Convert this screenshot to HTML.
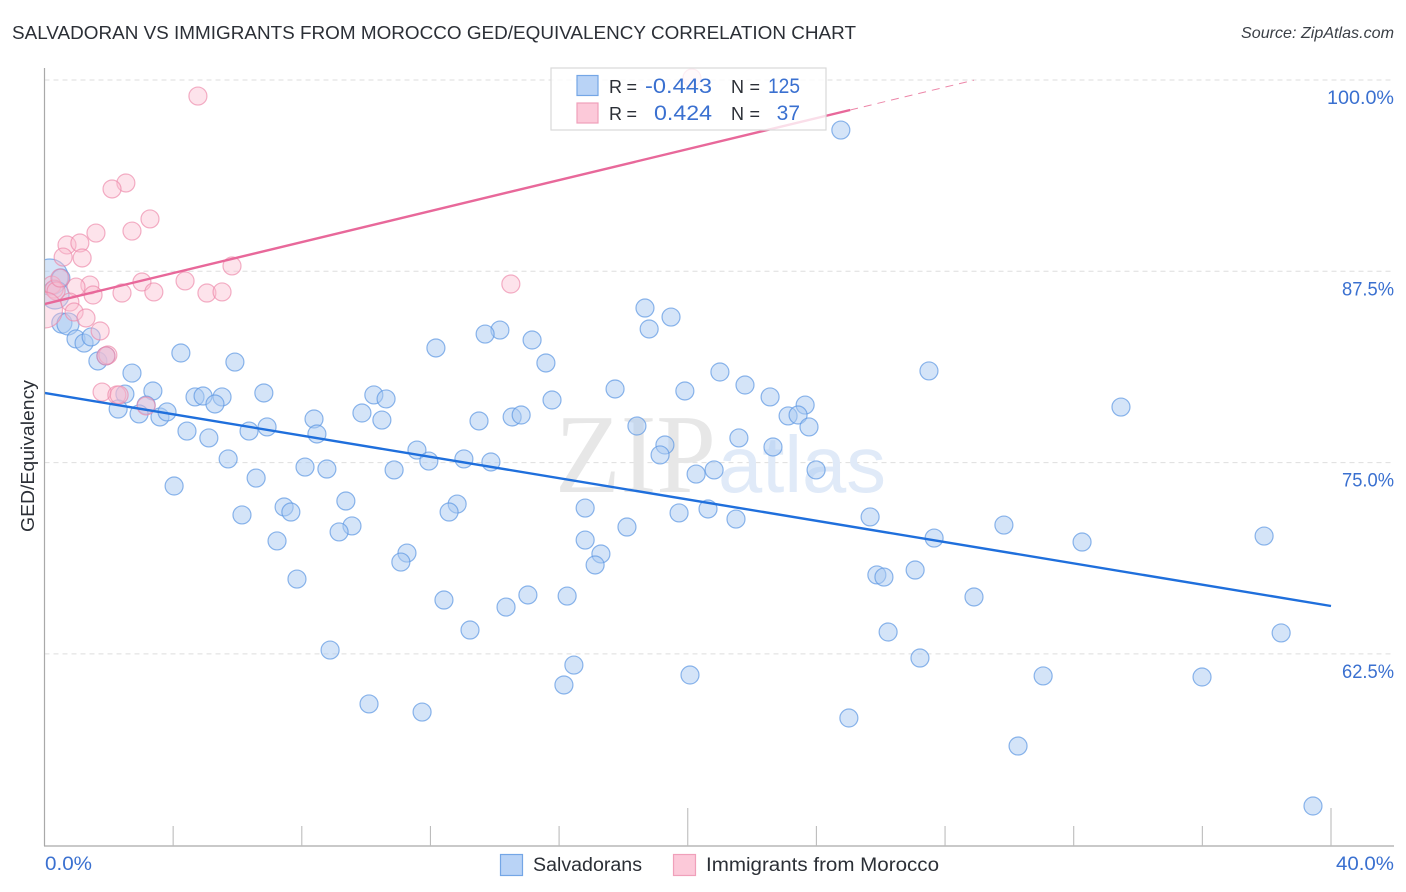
<!DOCTYPE html>
<html lang="en">
<head>
<meta charset="utf-8">
<title>Salvadoran vs Immigrants from Morocco GED/Equivalency Correlation Chart</title>
<style>
html,body{margin:0;padding:0;background:#fff;width:1406px;height:892px;overflow:hidden}
svg{display:block}
text{font-family:"Liberation Sans",sans-serif}
</style>
</head>
<body>
<svg id="chart" width="1406" height="892" viewBox="0 0 1406 892" xmlns="http://www.w3.org/2000/svg">
  <defs><clipPath id="plot-clip"><rect x="45" y="60" width="1349" height="786"/></clipPath></defs>
  <text x="12" y="39" font-size="18.5" fill="#2b2f36" textLength="844" lengthAdjust="spacingAndGlyphs">SALVADORAN VS IMMIGRANTS FROM MOROCCO GED/EQUIVALENCY CORRELATION CHART</text>
  <text x="1394" y="38" font-size="16" font-style="italic" fill="#3a3f46" text-anchor="end" textLength="153" lengthAdjust="spacingAndGlyphs">Source: ZipAtlas.com</text>

  <g id="grid"></g>
  <g>
    <text x="555" y="492" font-size="112" fill="#e7e7e7" textLength="161" lengthAdjust="spacingAndGlyphs" style="font-family:'Liberation Serif',serif">ZIP</text>
    <text x="718" y="492" font-size="80" fill="#e0eaf8" textLength="168" lengthAdjust="spacingAndGlyphs">atlas</text>
  </g>
  <g id="points" clip-path="url(#plot-clip)"></g>
  <g id="trends"></g>

  <line x1="44.5" y1="68" x2="44.5" y2="846" stroke="#a9a9a9" stroke-width="1.2"/>
  <line x1="44" y1="846" x2="1394" y2="846" stroke="#a9a9a9" stroke-width="1.2"/>
  <g id="axes"></g>

  <text transform="translate(34,456) rotate(-90)" font-size="18" fill="#2b2f36" text-anchor="middle" textLength="152" lengthAdjust="spacingAndGlyphs">GED/Equivalency</text>

  <g>
    <rect x="551" y="68" width="275" height="62" fill="#ffffff" fill-opacity="0.78" stroke="#d9d9d9" stroke-width="1.2"/>
    <rect x="577" y="75.5" width="21" height="20" fill="#b9d3f6" stroke="#74a6e6" stroke-width="1.2"/>
    <rect x="577" y="103" width="21" height="20" fill="#fcc9d9" stroke="#f0a0ba" stroke-width="1.2"/>
    <text x="609" y="93" font-size="18" fill="#2b2f36" textLength="28">R =</text>
    <text x="712" y="93" font-size="21" fill="#3a70d0" text-anchor="end" textLength="67" lengthAdjust="spacingAndGlyphs">-0.443</text>
    <text x="731" y="93" font-size="18" fill="#2b2f36" textLength="29">N =</text>
    <text x="800" y="93" font-size="21" fill="#3a70d0" text-anchor="end" textLength="32" lengthAdjust="spacingAndGlyphs">125</text>
    <text x="609" y="120" font-size="18" fill="#2b2f36" textLength="28">R =</text>
    <text x="712" y="120" font-size="21" fill="#3a70d0" text-anchor="end" textLength="58" lengthAdjust="spacingAndGlyphs">0.424</text>
    <text x="731" y="120" font-size="18" fill="#2b2f36" textLength="29">N =</text>
    <text x="800" y="120" font-size="21" fill="#3a70d0" text-anchor="end">37</text>
  </g>

  <g>
    <rect x="500.5" y="854.5" width="22" height="21" fill="#b9d3f6" stroke="#74a6e6" stroke-width="1.2"/>
    <text x="533" y="871" font-size="19" fill="#2b2f36" textLength="109" lengthAdjust="spacingAndGlyphs">Salvadorans</text>
    <rect x="673.5" y="854.5" width="22" height="21" fill="#fcc9d9" stroke="#f0a0ba" stroke-width="1.2"/>
    <text x="706" y="871" font-size="19" fill="#2b2f36" textLength="233" lengthAdjust="spacingAndGlyphs">Immigrants from Morocco</text>
  </g>
</svg>
<script>
const salvadoranX = [24.76,18.67,19.48,18.80,14.16,13.70,15.16,12.17,4.24,15.59,5.92,1.66,1.91,2.72,21.00,27.50,21.78,17.74,19.91,3.37,2.50,6.82,10.24,10.62,4.68,4.93,5.52,5.30,22.56,15.78,3.16,2.29,23.65,33.47,2.94,3.59,3.81,9.87,10.49,8.38,13.51,14.54,14.82,23.12,23.43,23.77,18.42,4.43,6.36,6.92,8.47,5.11,21.59,19.29,22.65,11.58,19.14,5.71,11.95,13.04,13.88,8.10,8.78,10.87,20.82,20.26,23.99,6.58,4.03,9.37,12.83,7.45,7.66,12.58,16.81,19.73,20.63,6.14,21.50,25.67,18.11,9.56,9.16,29.83,27.66,7.23,16.81,32.26,37.92,11.27,11.08,17.30,17.12,27.07,25.88,26.10,7.85,16.25,15.03,12.42,28.90,14.35,13.23,26.23,38.45,8.88,27.22,16.46,20.07,31.05,35.99,16.15,10.09,11.74,25.01,30.27,39.44,0.17,0.51,0.33,0.54,0.73,0.98,1.23,1.45];
const salvadoranY = [96.73,85.10,84.51,83.73,83.66,83.40,83.01,82.49,82.16,81.51,81.57,81.64,81.97,80.85,80.92,80.99,80.07,79.81,79.68,79.68,79.48,79.55,79.42,79.16,79.29,79.35,79.29,78.83,79.29,79.09,78.76,78.50,78.76,78.63,78.18,77.98,78.31,78.24,77.78,77.85,77.72,77.98,78.11,78.05,78.11,77.33,77.39,77.06,77.06,77.33,76.87,76.61,76.61,76.15,76.02,75.82,75.50,75.24,75.10,75.24,75.04,74.71,74.58,74.52,74.52,74.25,74.52,73.99,73.47,72.49,72.29,72.10,71.77,71.77,72.03,71.71,71.97,71.58,71.31,71.45,70.79,70.86,70.47,70.92,70.07,69.88,69.94,69.81,70.20,69.09,68.50,69.03,68.31,67.98,67.66,67.52,67.39,66.28,66.35,66.02,66.22,65.56,64.06,63.93,63.87,62.75,62.23,61.77,61.12,61.06,60.99,60.47,59.23,58.70,58.31,56.48,52.56,87.13,87.06,85.95,84.12,84.06,83.08,82.81,83.21];
const moroccoX = [4.77,20.13,2.53,2.10,3.28,2.72,1.60,0.70,1.10,0.58,1.17,5.83,14.50,4.37,3.03,1.41,0.98,2.41,1.51,3.40,5.05,5.52,0.23,0.30,0.36,0.79,0.92,1.29,1.73,1.97,1.91,1.79,2.25,2.32,3.16,0.00,0.48];
const moroccoY = [98.95,100.13,93.27,92.88,90.92,90.13,90.00,89.22,89.35,88.43,88.37,87.85,86.67,86.87,86.80,86.60,86.47,86.08,85.95,86.15,86.08,86.15,86.60,86.34,86.21,85.49,84.84,84.45,83.60,82.03,81.97,79.61,79.42,79.42,78.70,84.97,87.06];
const salvadoranWeights = {117:4, 119:2.4, 120:1.25, 121:1.5};
const moroccoWeights = {35:4};
const salvadoranTrend = [79.55, 65.63];
const moroccoTrend = [85.36, 98.04];
const moroccoTrendSolidEnd = 25.05;
const moroccoTrendDashEnd = 28.9;
const xTickValues = [0,4,8,12,16,20,24,28,32,36,40];
const xMajorTicks = [20,40];
const xTickLabels = ["0.0%","40.0%"];
const yTickValues = [100,87.5,75,62.5];
const yTickLabels = ["100.0%","87.5%","75.0%","62.5%"];

const NS = 'http://www.w3.org/2000/svg';
const xScale = v => 44.5 + v * 32.1625;
const yScale = v => 80 + (100 - v) * 15.304;
const radius = w => 9 * Math.sqrt(w || 1);
function mk(tag, attrs, parent) {
  const el = document.createElementNS(NS, tag);
  for (const k in attrs) el.setAttribute(k, attrs[k]);
  parent.appendChild(el);
  return el;
}

const grid = document.getElementById('grid');
yTickValues.forEach(v => {
  const el = mk('line', {x1:44.5, x2:1394, y1:yScale(v), y2:yScale(v), stroke:'#dedede', 'stroke-width':1, 'stroke-dasharray':'5 4'}, grid);
  
  
});

const axes = document.getElementById('axes');
xTickValues.slice(1).forEach(v => {
  const top = xMajorTicks.includes(v) ? 808 : 826;
  const el = mk('line', {x1:xScale(v), x2:xScale(v), y1:top, y2:846, stroke:'#bcbcbc', 'stroke-width':1.1}, axes);
  
  
});
yTickValues.forEach((v, i) => {
  const el = mk('text', {x:1394, y:yScale(v) + 24, 'font-size':19.5, fill:'#3a70d0', 'text-anchor':'end', textLength:yTickLabels[i].length * 10.4 + (yTickLabels[i].length > 5 ? 4.6 : 0), lengthAdjust:'spacingAndGlyphs'}, axes);
  el.textContent = yTickLabels[i];
  
  
});
const xl0 = mk('text', {x:45, y:870, 'font-size':19.5, fill:'#3a70d0', textLength:47, lengthAdjust:'spacingAndGlyphs'}, axes);
xl0.textContent = xTickLabels[0];


const xl1 = mk('text', {x:1394, y:870, 'font-size':19.5, fill:'#3a70d0', 'text-anchor':'end', textLength:58, lengthAdjust:'spacingAndGlyphs'}, axes);
xl1.textContent = xTickLabels[1];



const points = document.getElementById('points');
salvadoranX.forEach((x, i) => {
  const el = mk('circle', {cx:xScale(x), cy:yScale(salvadoranY[i]), r:radius(salvadoranWeights[i]), fill:'#a9c9f2', 'fill-opacity':0.5, stroke:'#5c97e3', 'stroke-opacity':0.7, 'stroke-width':1.2}, points);
  
  
});
moroccoX.forEach((x, i) => {
  const el = mk('circle', {cx:xScale(x), cy:yScale(moroccoY[i]), r:radius(moroccoWeights[i]), fill:'#fbbdd0', 'fill-opacity':0.42, stroke:'#ec86a8', 'stroke-opacity':0.65, 'stroke-width':1.2}, points);
  
  
});

const trends = document.getElementById('trends');
const blueLine = mk('line', {x1:xScale(0), y1:yScale(salvadoranTrend[0]), x2:xScale(40), y2:yScale(salvadoranTrend[1]), stroke:'#1f6fdc', 'stroke-width':2.4}, trends);


const mSlope = (moroccoTrend[1] - moroccoTrend[0]) / moroccoTrendSolidEnd;
const mAt = x => moroccoTrend[0] + mSlope * x;
const pinkLine = mk('line', {x1:xScale(0), y1:yScale(mAt(0)), x2:xScale(moroccoTrendSolidEnd), y2:yScale(mAt(moroccoTrendSolidEnd)), stroke:'#e8689a', 'stroke-width':2.4}, trends);


const pinkDash = mk('line', {x1:xScale(moroccoTrendSolidEnd), y1:yScale(mAt(moroccoTrendSolidEnd)), x2:xScale(moroccoTrendDashEnd), y2:yScale(mAt(moroccoTrendDashEnd)), stroke:'#ec86a8', 'stroke-width':1, 'stroke-dasharray':'8 6'}, trends);


</script>
</body>
</html>
